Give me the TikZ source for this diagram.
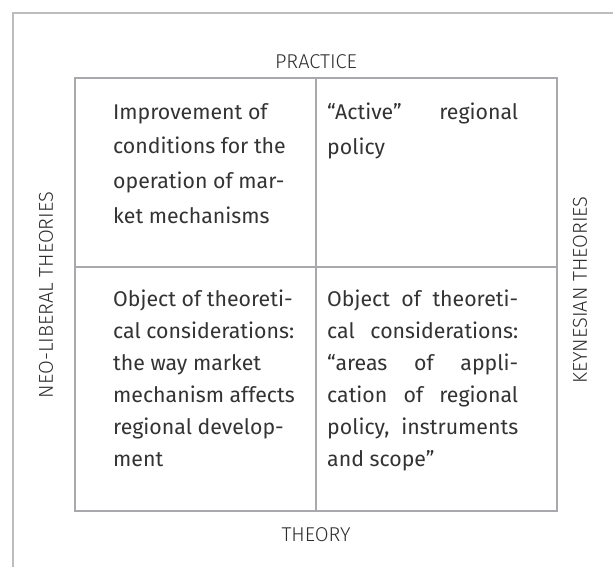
\documentclass[tikz,border=0pt]{standalone}
\usepackage{fontspec}
\setmainfont{Fira Sans}
\newfontfamily\labfont{Fira Sans Light}
\definecolor{framegray}{HTML}{BDBDBD}
\definecolor{gridgray}{HTML}{A9A9AD}
\definecolor{txt}{HTML}{333333}
\definecolor{labtxt}{HTML}{2E2E2E}
\newlength{\jw}
\setlength{\jw}{191pt}
\newcommand{\jline}[1]{\makebox[\jw][s]{#1}}
\tikzset{
  frameline/.style={draw=framegray, line width=1.4pt},
  cell/.style={draw=gridgray, line width=1.6pt, rectangle, inner sep=0pt, outer sep=0pt, anchor=north west},
  body/.style={anchor=north west, inner sep=0pt, align=left, text=txt, font=\fontsize{21.3}{34.7}\selectfont},
  bodylow/.style={body, font=\fontsize{21.3}{32}\selectfont},
  lab/.style={inner sep=0pt, text=labtxt, font=\labfont\fontsize{20}{22}\selectfont}
}
\begin{document}
\begin{tikzpicture}[x=1pt,y=-1pt]
\useasboundingbox (0,0) rectangle (613,567);
\fill[white] (0,0) rectangle (613,567);
\draw[frameline] (13,567) -- (13,13) -- (613,13);
% cells
\node[cell, minimum width=241pt, minimum height=189pt] (tl) at (75,78) {};
\node[cell, minimum width=241pt, minimum height=189pt] (tr) at (316,78) {};
\node[cell, minimum width=241pt, minimum height=244pt] (bl) at (75,267) {};
\node[cell, minimum width=241pt, minimum height=244pt] (br) at (316,267) {};
% axis labels
\node[lab] (practice) at (316,62) {PRACTICE};
\node[lab] (theory) at (316,535) {THEORY};
\node[lab, rotate=90] (neo) at (46,295) {NEO-LIBERAL THEORIES};
\node[lab, rotate=90] (key) at (580,290) {KEYNESIAN THEORIES};
% cell texts
\node[body] (ttl) at (113,103) {Improvement of\\conditions for the\\operation of mar-\\ket mechanisms};
\node[body] (ttr) at (327,103) {\jline{“Active” regional}\\policy};
\node[bodylow] (tbl) at (113,290) {Object of theoreti-\\cal considerations:\\the way market\\mechanism affects\\regional develop-\\ment};
\node[bodylow] (tbr) at (327,290) {\jline{Object of theoreti-}\\\jline{cal considerations:}\\\jline{“areas of appli-}\\\jline{cation of regional}\\\jline{policy, instruments}\\and scope”};
\end{tikzpicture}
\end{document}
